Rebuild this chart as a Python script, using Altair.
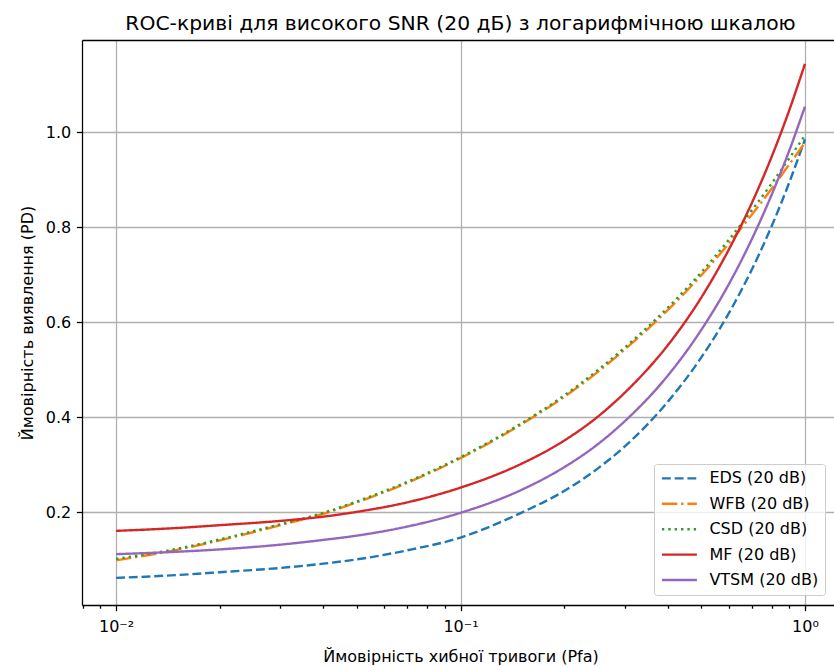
import altair as alt
import pandas as pd

PFA = [0.01, 0.015, 0.02, 0.03, 0.04, 0.05, 0.07, 0.1, 0.15, 0.2, 0.25, 0.3,
       0.4, 0.5, 0.6, 0.7, 0.8, 0.9, 1.0]

EDS = [0.062, 0.068, 0.074, 0.083, 0.092, 0.101, 0.120, 0.147, 0.199, 0.245,
       0.292, 0.339, 0.433, 0.526, 0.618, 0.710, 0.802, 0.894, 0.985]
WFB = [0.099, 0.121, 0.141, 0.173, 0.197, 0.221, 0.262, 0.314, 0.385, 0.443,
       0.495, 0.543, 0.626, 0.699, 0.765, 0.826, 0.881, 0.932, 0.978]
CSD = [0.102, 0.123, 0.143, 0.175, 0.199, 0.223, 0.264, 0.316, 0.387, 0.446,
       0.499, 0.547, 0.631, 0.705, 0.773, 0.835, 0.892, 0.945, 0.993]
MF = [0.161, 0.167, 0.173, 0.182, 0.191, 0.201, 0.221, 0.252, 0.302, 0.351,
      0.401, 0.452, 0.552, 0.652, 0.752, 0.850, 0.948, 1.046, 1.144]
VTSM = [0.112, 0.117, 0.122, 0.132, 0.142, 0.151, 0.170, 0.199, 0.247, 0.295,
        0.343, 0.392, 0.488, 0.584, 0.679, 0.774, 0.868, 0.961, 1.054]

SERIES = ["EDS (20 dB)", "WFB (20 dB)", "CSD (20 dB)", "MF (20 dB)", "VTSM (20 dB)"]
COLORS = ["#1f77b4", "#ff7f0e", "#2ca02c", "#d62728", "#9467bd"]
DASHES = [[8.9, 3.84], [15.4, 3.84, 2.4, 3.84], [2.4, 3.96], [1, 0], [1, 0]]
WIDTHS = [2.4, 2.4, 2.4, 2.4, 4.0]

X_MAJOR = [0.01, 0.1, 1.0]
X_MINOR = [0.008, 0.009, 0.02, 0.03, 0.04, 0.05, 0.06, 0.07, 0.08, 0.09,
           0.2, 0.3, 0.4, 0.5, 0.6, 0.7, 0.8, 0.9]
Y_TICKS = [0.2, 0.4, 0.6, 0.8, 1.0]

rows = []
for name, vals in zip(SERIES, [EDS, WFB, CSD, MF, VTSM]):
    for i, (p, v) in enumerate(zip(PFA, vals)):
        rows.append({"series": name, "pfa": p, "pd": v, "idx": i})
df = pd.DataFrame(rows)

FONT = "DejaVu Sans"
xscale = alt.Scale(type="log", domain=[0.007964, 1.2141], nice=False)
yscale = alt.Scale(domain=[0.005, 1.194], nice=False, zero=False)

major_test = "abs(log(datum.value)/LN10 - round(log(datum.value)/LN10)) < 1e-6"

x_axis = alt.Axis(
    values=X_MAJOR + X_MINOR,
    labelExpr="datum.value == 0.01 ? '10⁻²' : datum.value == 0.1 ? '10⁻¹' : datum.value == 1 ? '10⁰' : ''",
    labelOverlap=False,
    labelFont=FONT, labelFontSize=16, labelColor="black",
    labelPadding=8,
    tickSize={"condition": {"test": major_test, "value": 5.6}, "value": 3.2},
    tickColor="black", tickWidth=1.28,
    grid=True, gridColor="#b0b0b0", gridWidth=1.28,
    gridOpacity={"condition": {"test": major_test, "value": 1}, "value": 0},
    domainColor="black", domainWidth=1.28,
    title="Ймовірність хибної тривоги (Pfa)",
    titleFont=FONT, titleFontSize=16, titleFontWeight="normal", titleColor="black",
    titleX=378.5, titleY=51, titleBaseline="middle", titleAlign="center",
    orient="bottom",
)

y_axis = alt.Axis(
    values=Y_TICKS, format=".1f",
    labelFont=FONT, labelFontSize=16, labelColor="black",
    labelPadding=5.6, tickSize=5.6, tickColor="black", tickWidth=1.28,
    grid=True, gridColor="#b0b0b0", gridWidth=1.28,
    domainColor="black", domainWidth=1.28,
    title="Ймовірність виявлення (PD)",
    titleFont=FONT, titleFontSize=16, titleFontWeight="normal", titleColor="black",
    titleX=-55, titleY=282.5, titleAngle=270, titleBaseline="middle", titleAlign="center",
)

legend = alt.Legend(
    title=None, orient="none", legendX=572, legendY=424,
    padding=6.4, rowPadding=9.4, labelOffset=11, clipHeight=16,
    symbolType="stroke", symbolSize=1225,
    labelFont=FONT, labelFontSize=16, labelColor="black",
    fillColor="rgba(255,255,255,0.8)", strokeColor="#cccccc", cornerRadius=3,
)

lines = alt.Chart(df).mark_line(interpolate="monotone").encode(
    x=alt.X("pfa:Q", scale=xscale, axis=x_axis),
    y=alt.Y("pd:Q", scale=yscale, axis=y_axis),
    color=alt.Color("series:N", scale=alt.Scale(domain=SERIES, range=COLORS), legend=legend, sort=SERIES),
    strokeDash=alt.StrokeDash("series:N", scale=alt.Scale(domain=SERIES, range=DASHES), legend=legend, sort=SERIES),
    strokeWidth=alt.StrokeWidth("series:N", scale=alt.Scale(domain=SERIES, range=WIDTHS), legend=legend, sort=SERIES),
    order="idx:Q",
)

top = alt.Chart(df).mark_point(opacity=0).encode(
    x=alt.X("pfa:Q", scale=xscale,
            axis=alt.Axis(orient="top", labels=False, ticks=False, grid=False,
                          domainColor="black", domainWidth=1.28, title=None,
                          minExtent=0, maxExtent=0, offset=0)),
)

chart = alt.layer(lines, top).resolve_axis(x="independent").properties(
    width=752, height=565,
    title=alt.TitleParams(
        "ROC-криві для високого SNR (20 дБ) з логарифмічною шкалою",
        font=FONT, fontSize=20.3, fontWeight="normal", color="black",
        anchor="middle", offset=5, baseline="bottom", dx=2.5, dy=19, frame="group",
    ),
    autosize=alt.AutoSizeParams(type="none"),
    padding={"left": 82, "top": 40, "right": 0, "bottom": 61},
).configure_view(stroke=None).configure(background="white")

chart.save("out.html", embed_options={"renderer": "svg", "actions": False})
